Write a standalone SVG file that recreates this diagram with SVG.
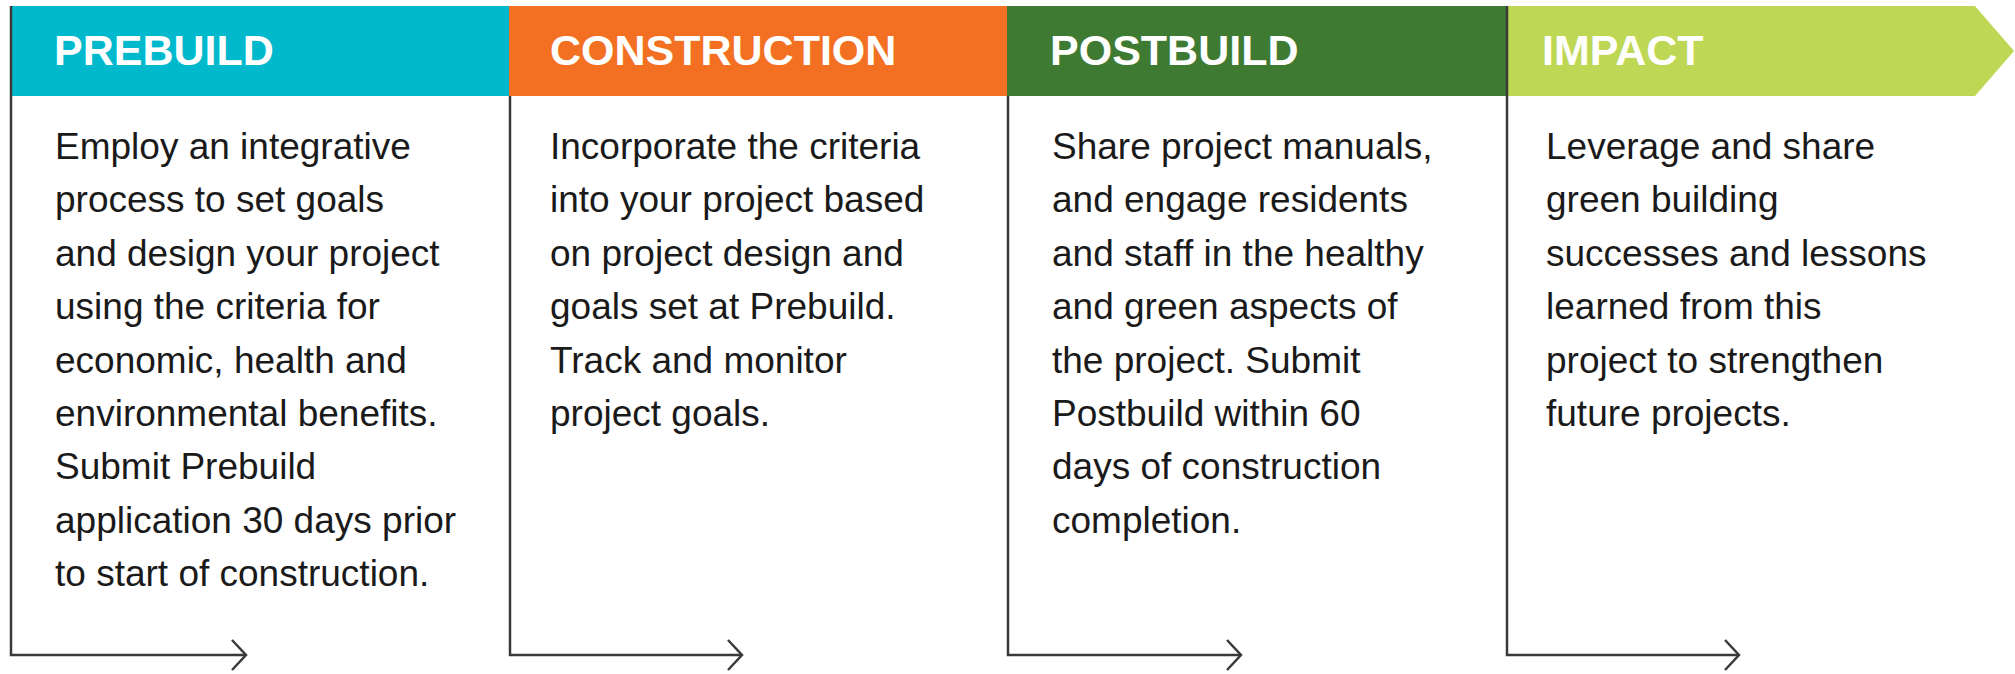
<svg xmlns="http://www.w3.org/2000/svg" width="2015" height="674" viewBox="0 0 2015 674">
<style>
.hd{font-family:"Liberation Sans",Arial,sans-serif;font-weight:bold;font-size:43px;fill:#ffffff}
.bd{font-family:"Liberation Sans",Arial,sans-serif;font-size:37px;fill:#1a1a1a}
.ln{fill:none;stroke:#3a3a3a;stroke-width:2.5}
.ah{fill:none;stroke:#3a3a3a;stroke-width:2.5;stroke-linejoin:miter}
</style>
<rect width="2015" height="674" fill="#ffffff"/>
<g id="prebuild">
<rect x="11" y="6" width="498" height="90" fill="#00B9CD"/>
<text class="hd" x="54" y="65">PREBUILD</text>
<text class="bd" x="55">
<tspan x="55" y="159">Employ an integrative</tspan>
<tspan x="55" y="212.4">process to set goals</tspan>
<tspan x="55" y="265.8">and design your project</tspan>
<tspan x="55" y="319.2">using the criteria for</tspan>
<tspan x="55" y="372.6">economic, health and</tspan>
<tspan x="55" y="426">environmental benefits.</tspan>
<tspan x="55" y="479.4">Submit Prebuild</tspan>
<tspan x="55" y="532.8">application 30 days prior</tspan>
<tspan x="55" y="586.2">to start of construction.</tspan>
</text>
</g>
<g id="construction">
<rect x="509" y="6" width="498" height="90" fill="#F37022"/>
<text class="hd" x="550" y="65">CONSTRUCTION</text>
<text class="bd">
<tspan x="550" y="159">Incorporate the criteria</tspan>
<tspan x="550" y="212.4">into your project based</tspan>
<tspan x="550" y="265.8">on project design and</tspan>
<tspan x="550" y="319.2">goals set at Prebuild.</tspan>
<tspan x="550" y="372.6">Track and monitor</tspan>
<tspan x="550" y="426">project goals.</tspan>
</text>
</g>
<g id="postbuild">
<rect x="1007" y="6" width="500" height="90" fill="#3F7A33"/>
<text class="hd" x="1050" y="65">POSTBUILD</text>
<text class="bd">
<tspan x="1052" y="159">Share project manuals,</tspan>
<tspan x="1052" y="212.4">and engage residents</tspan>
<tspan x="1052" y="265.8">and staff in the healthy</tspan>
<tspan x="1052" y="319.2">and green aspects of</tspan>
<tspan x="1052" y="372.6">the project. Submit</tspan>
<tspan x="1052" y="426">Postbuild within 60</tspan>
<tspan x="1052" y="479.4">days of construction</tspan>
<tspan x="1052" y="532.8">completion.</tspan>
</text>
</g>
<g id="impact">
<polygon points="1507,6 1975,6 2014,51 1975,96 1507,96" fill="#BED755"/>
<text class="hd" x="1542" y="65">IMPACT</text>
<text class="bd">
<tspan x="1546" y="159">Leverage and share</tspan>
<tspan x="1546" y="212.4">green building</tspan>
<tspan x="1546" y="265.8">successes and lessons</tspan>
<tspan x="1546" y="319.2">learned from this</tspan>
<tspan x="1546" y="372.6">project to strengthen</tspan>
<tspan x="1546" y="426">future projects.</tspan>
</text>
</g>
<g id="connectors">
<path class="ln" d="M11,6 V655 H245"/>
<path class="ah" d="M232,640 L246,655 L232,670"/>
<path class="ln" d="M510,96 V655 H741"/>
<path class="ah" d="M728,640 L742,655 L728,670"/>
<path class="ln" d="M1008,96 V655 H1240"/>
<path class="ah" d="M1227,640 L1241,655 L1227,670"/>
<path class="ln" d="M1507,6 V655 H1738"/>
<path class="ah" d="M1725,640 L1739,655 L1725,670"/>
</g>
</svg>
